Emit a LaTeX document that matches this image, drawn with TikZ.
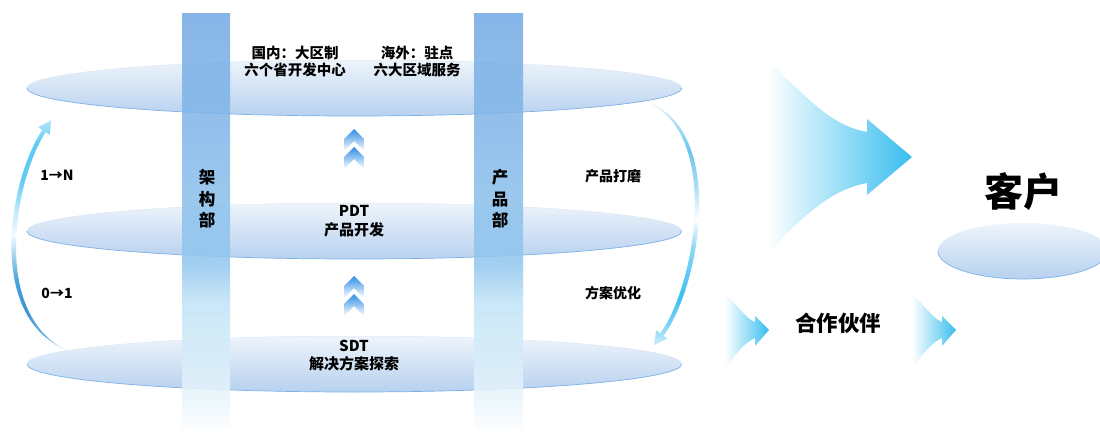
\documentclass[tikz,border=0pt]{standalone}
\usepackage{fontspec}
\setmainfont{Noto Sans CJK SC}
\usetikzlibrary{shapes.geometric}
\definecolor{layTop}{HTML}{EEF4FB}
\definecolor{layBot}{HTML}{B7D1EF}
\definecolor{layEdge}{HTML}{7DB0E6}
\definecolor{layEdgeL}{HTML}{DCE8F6}
\definecolor{colA}{HTML}{72A9E4}
\definecolor{colB}{HTML}{92C7EE}
\definecolor{colC}{HTML}{BEE2F6}
\definecolor{colD}{HTML}{EAF6FC}
\definecolor{chevBlue}{HTML}{2F8DE4}
\definecolor{arrCyan}{HTML}{38BEEE}
\definecolor{lA}{HTML}{D6EDF6}
\definecolor{lB}{HTML}{6FB7E0}
\definecolor{lC}{HTML}{3B94D2}
\definecolor{lD}{HTML}{4AA2DA}
\definecolor{lE}{HTML}{F2FAFD}
\definecolor{lF}{HTML}{C5EBFA}
\definecolor{lG}{HTML}{5FCBF5}
\definecolor{lH}{HTML}{B5E6FA}
\definecolor{rA}{HTML}{D0EEFA}
\definecolor{rB}{HTML}{7FD3F5}
\definecolor{rC}{HTML}{3DBFF0}
\definecolor{rD}{HTML}{8FD6F4}
\definecolor{rE}{HTML}{A8DCF3}
\definecolor{rF}{HTML}{6CC5EE}
\definecolor{rG}{HTML}{E0F3FB}
\pgfdeclareverticalshading{colshade}{100bp}{color(0bp)=(white); color(25bp)=(white); color(29bp)=(colD); color(41bp)=(colC); color(45bp)=(colB); color(75bp)=(colA); color(100bp)=(colA)}
\pgfdeclareverticalshading{lcurve}{100bp}{color(0bp)=(lA); color(25bp)=(lA); color(28bp)=(lB); color(33bp)=(lC); color(40bp)=(lD); color(50bp)=(lE); color(55bp)=(lF); color(62bp)=(lG); color(70bp)=(lG); color(75bp)=(lH); color(100bp)=(lH)}
\pgfdeclareverticalshading{rcurve}{100bp}{color(0bp)=(rA); color(25bp)=(rA); color(29bp)=(rB); color(35bp)=(rC); color(45bp)=(rD); color(51bp)=(white); color(58bp)=(rE); color(65bp)=(rF); color(75bp)=(rG); color(100bp)=(rG)}
\begin{document}
\begin{tikzpicture}[x=1pt,y=-1pt,
  layer/.style={ellipse, minimum width=655pt, minimum height=56pt, inner sep=0pt,
    top color=layTop, bottom color=layBot, draw=none},
  edgeline/.style={draw=layEdge, line width=0.7pt},
  edgeline2/.style={draw=layEdgeL, line width=0.5pt},
  colbar/.style={shading=colshade, fill opacity=0.85},
  txt/.style={font=\bfseries\fontsize{14}{17.5}\selectfont, align=center, inner sep=0pt},
  mtxt/.style={font=\bfseries\fontsize{15}{18.5}\selectfont, align=center, inner sep=0pt},
  coltxt/.style={font=\bfseries\fontsize{16.5}{21.5}\selectfont, align=center, inner sep=0pt},
  chev/.style={top color=chevBlue, bottom color=white},
  flow/.style={left color=white, right color=arrCyan}]
\useasboundingbox[fill=white] (0,0) rectangle (1100,434);

% layers
\node[layer] (L1) at (354.5,88) {};
\node[layer] (L2) at (354.5,231) {};
\node[layer] (L3) at (354.5,364) {};
\foreach \n in {L1,L2,L3}{
  \draw[edgeline2] (\n.west) arc[start angle=180,end angle=0,x radius=327.5pt,y radius=28pt];
  \draw[edgeline] (\n.west) arc[start angle=180,end angle=360,x radius=327.5pt,y radius=28pt];
}

% columns
\shade[colbar] (182,13) rectangle (230,434);
\shade[colbar] (474,13) rectangle (523,434);
\coordinate (colL) at (206,13);
\coordinate (colR) at (498,13);

% column texts
\node[coltxt] (arch) at (207,199) {架\\构\\部};
\node[coltxt] (prod) at (500,199) {产\\品\\部};

% layer texts
\node[txt, font=\bfseries\fontsize{14.5}{17.5}\selectfont] (dom) at (295,61.5) {国内：大区制\\六个省开发中心};
\node[txt, font=\bfseries\fontsize{14.5}{17.5}\selectfont] (ovs) at (417,61.5) {海外：驻点\\六大区域服务};
\node[mtxt] (pdt) at (354,221) {PDT\\产品开发};
\node[mtxt] (sdt) at (354,355.5) {SDT\\解决方案探索};

% side texts
\node[txt] (oneN) at (57,175) {1→N};
\node[txt] (zeroOne) at (57,293) {0→1};
\node[txt] (polish) at (613,176) {产品打磨};
\node[txt] (optim) at (613,293) {方案优化};

% chevrons
\foreach \yy in {129,147,276,294}{
  \shade[chev] (354,\yy) -- ++(10,10) -- ++(0,12) -- ++(-10,-10) -- ++(-10,10) -- ++(0,-12) -- cycle;
}

% left curved arrow (0->1 -> 1->N)
\shade[shading=lcurve] (66,350) .. controls (-15,315) and (9.3,179.7) .. (42.3,129.9)
  -- (38.2,127.2) -- (51.2,120.2) -- (49.8,134.9) -- (45.7,132.1)
  .. controls (15.5,177.8) and (-10,312) .. (66,350) -- cycle;

% right curved arrow
\shade[shading=rcurve] (650,103) .. controls (727,135) and (699.4,287.8) .. (663.4,335.8)
  -- (667.4,338.8) -- (654,345) -- (656.2,330.4) -- (660.2,333.4)
  .. controls (693.2,289.4) and (722,140) .. (650,103) -- cycle;

% big flow arrow
\shade[flow] (767,60) .. controls (810,100) and (830,125) .. (867,132) -- (867,119) -- (912,157)
  -- (867,195) -- (867,183) .. controls (830,190) and (805,215) .. (767,253) -- cycle;

% small flow arrows
\foreach \dx in {0,187}{
  \shade[flow] (725+\dx,295) .. controls (738+\dx,305) and (745+\dx,318) .. (755+\dx,322)
    -- (755+\dx,316) -- (769+\dx,330) -- (755+\dx,346) -- (755+\dx,338)
    .. controls (745+\dx,342) and (735+\dx,355) .. (725+\dx,368) -- cycle;
}

\node[font=\bfseries\fontsize{21.5}{24}\selectfont, inner sep=0pt] (partner) at (838,323) {合作伙伴};

% customer
\node[layer, minimum width=170pt] (custell) at (1023,251) {};
\draw[edgeline] (custell.west) arc[start angle=180,end angle=360,x radius=85pt,y radius=28pt];
\node[font=\bfseries\fontsize{39}{44}\selectfont, inner sep=0pt] (cust) at (1023,192) {客户};
\end{tikzpicture}
\end{document}
